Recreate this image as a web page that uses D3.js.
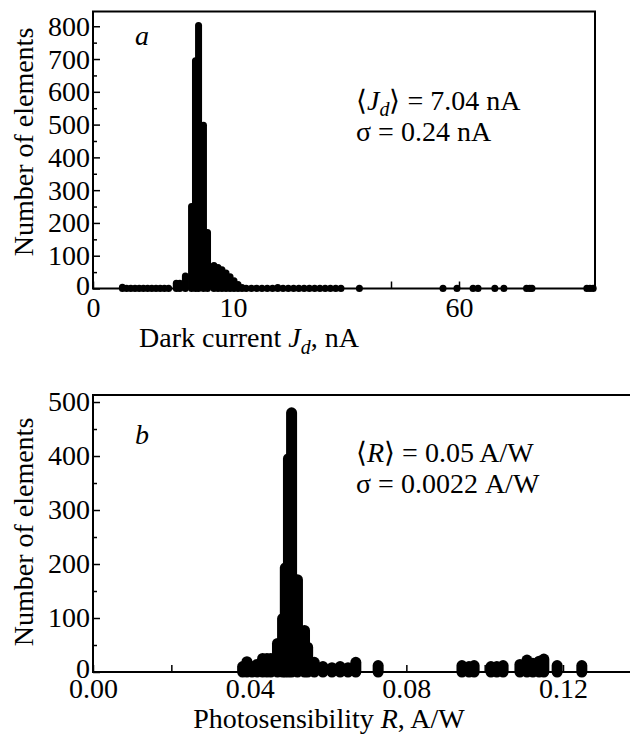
<!DOCTYPE html>
<html>
<head>
<meta charset="utf-8">
<script src="https://cdn.jsdelivr.net/npm/d3@7"></script>
<style>
  body { margin: 0; background: #fff; }
  svg text { font-family: "Liberation Serif", "Times New Roman", serif; fill: #000; }
</style>
</head>
<body>
<svg id="chart" width="630" height="734"></svg>
<script>
// panel a: dark current histogram (value, count)
const darkJ = [2.1, 2.4, 2.7, 3.0, 3.3, 3.6, 3.9, 4.2, 4.5, 4.8, 5.1, 5.4,
  5.95, 6.2, 6.6, 7.04, 7.32, 7.54, 7.89, 8.18,
  8.64, 8.93, 9.21, 9.5, 9.79, 10.19, 10.95, 11.71,
  12.5, 13.5, 14.5, 15.5, 16.5, 17.5, 18.5, 19.5, 20.5, 21.5, 22.5, 23.5, 24.5, 25.5, 26.5, 27.5, 28.5, 29.5, 30.5,
  34, 55.3, 59.4, 63.1, 64.2, 67.9, 69.9, 74.9, 75.6, 76.1, 88.2, 88.9, 89.6];
const darkN = [4, 1, 1, 1, 1, 1, 1, 1, 1, 1, 1, 1,
  16, 16, 38, 250, 695, 802, 498, 171,
  70, 64, 57, 47, 36, 24, 12, 3,
  1, 1, 1, 1, 1, 1, 3, 1, 1, 1, 1, 1, 1, 1, 1, 1, 1, 1, 1,
  1, 1, 1, 1, 1, 1, 1, 1, 1, 1, 1, 1, 1];

// panel b: photosensibility histogram (value, count)
const photoR = [0.0382, 0.0393, 0.0406, 0.0419, 0.0433, 0.0444, 0.0454, 0.0471, 0.0484, 0.0491,
  0.0499, 0.0507, 0.0522, 0.0540, 0.0548, 0.0565,
  0.0587, 0.0610, 0.0631, 0.0651, 0.0671, 0.0728,
  0.0942, 0.0960, 0.0973, 0.1016, 0.1031, 0.1047,
  0.1090, 0.1108, 0.1123, 0.1139, 0.1151, 0.1185, 0.1248];
const photoN = [10, 19, 10, 14, 25, 25, 25, 53, 99, 193,
  395, 480, 171, 77, 46, 18,
  10, 8, 10, 8, 18, 12,
  12, 10, 12, 10, 10, 12,
  14, 22, 16, 20, 24, 12, 12];

const darkTicks = [0, 10, 40, 60];
const darkTickLabels = ["0", "10", "", "60"];
const photoTicks = [0, 0.02, 0.04, 0.06, 0.08, 0.10, 0.12];
const photoTickLabels = ["0.00", "", "0.04", "", "0.08", "", "0.12"];
const countMajorA = [0, 100, 200, 300, 400, 500, 600, 700, 800];
const countMinorA = [50, 150, 250, 350, 450, 550, 650, 750];
const countMajorB = [0, 100, 200, 300, 400, 500];
const countMinorB = [50, 150, 250, 350, 450];

const svg = d3.select("#chart");
const fs = 28;

function drawPanel(p) {
    const g = svg.append("g");

    // drop lines with round caps, giving the dotted baseline and the lumpy peak
    g.selectAll("line.bar")
        .data(d3.zip(p.xs, p.ns))
        .join("line")
        .attr("class", "bar")
        .attr("x1", d => p.x(d[0]))
        .attr("x2", d => p.x(d[0]))
        .attr("y1", p.y(0))
        .attr("y2", d => p.y(d[1]))
        .attr("stroke", "#000")
        .attr("stroke-width", p.barW)
        .attr("stroke-linecap", "round");

    // frame
    g.append("path")
        .attr("d", p.frame)
        .attr("fill", "none")
        .attr("stroke", "#000")
        .attr("stroke-width", 2);

    const yMajor = g.append("g")
        .attr("transform", `translate(${p.x0},0)`)
        .call(d3.axisLeft(p.y).tickValues(p.yMajor).tickSize(-7).tickPadding(3).tickFormat(d3.format("d")));
    const yMinor = g.append("g")
        .attr("transform", `translate(${p.x0},0)`)
        .call(d3.axisLeft(p.y).tickValues(p.yMinor).tickSize(-4).tickFormat(""));
    const xAx = g.append("g")
        .attr("transform", `translate(0,${p.y(0)})`)
        .call(d3.axisBottom(p.x).tickValues(p.xTicks).tickSize(-7).tickPadding(p.xPad)
            .tickFormat((d, i) => p.xLabels[i]));

    [yMajor, yMinor, xAx].forEach(a => {
        a.select(".domain").remove();
        a.selectAll("line").attr("stroke", "#000").attr("stroke-width", 1.5);
        a.selectAll("text").attr("font-size", fs).attr("font-family", null).attr("fill", "#000");
    });
    // lowest count label sits a little higher so it clears the x labels
    yMajor.selectAll("text").filter(d => d === 0).attr("dy", "0.2em");

    // y label
    g.append("text")
        .attr("transform", `translate(33,${p.yLabelY}) rotate(-90)`)
        .attr("text-anchor", "middle")
        .attr("font-size", fs)
        .text("Number of elements");

    // x label
    const xl = g.append("text")
        .attr("x", p.xLabelX).attr("y", p.xLabelY)
        .attr("text-anchor", "middle")
        .attr("font-size", fs);
    xl.append("tspan").text(p.xLabel[0]);
    xl.append("tspan").attr("font-style", "italic").text(p.xLabel[1]);
    if (p.xLabel[2]) {
        xl.append("tspan").attr("font-style", "italic").attr("font-size", 20).attr("dy", 7).text(p.xLabel[2]);
        xl.append("tspan").attr("dy", -7).text(p.xLabel[3]);
    } else {
        xl.append("tspan").text(p.xLabel[3]);
    }

    // panel letter
    g.append("text")
        .attr("x", 135).attr("y", p.letterY)
        .attr("font-size", fs).attr("font-style", "italic")
        .text(p.letter);

    // statistics
    const t1 = g.append("text").attr("x", 356).attr("y", p.statY).attr("font-size", fs);
    t1.append("tspan").text("\u27E8");
    t1.append("tspan").attr("font-style", "italic").text(p.sym);
    if (p.symSub) {
        t1.append("tspan").attr("font-style", "italic").attr("font-size", 20).attr("dy", 6).text(p.symSub);
        t1.append("tspan").attr("dy", -6).text("\u27E9 = " + p.mean);
    } else {
        t1.append("tspan").text("\u27E9 = " + p.mean);
    }
    g.append("text").attr("x", 356).attr("y", p.statY + 31).attr("font-size", fs)
        .text("\u03C3 = " + p.sigma);
}

drawPanel({
    xs: darkJ, ns: darkN,
    x: d3.scaleLinear().domain([0, 10, 40, 60, 90]).range([93, 233, 391, 459, 595]),
    y: d3.scaleLinear().domain([0, 845]).range([288.5, 11.5]),
    x0: 93, barW: 7,
    frame: "M93,11.5H595V288.5H93Z",
    yMajor: countMajorA, yMinor: countMinorA,
    xTicks: darkTicks, xLabels: darkTickLabels, xPad: 8.5,
    yLabelY: 142, xLabelX: 249, xLabelY: 347,
    xLabel: ["Dark current ", "J", "d", ", nA"],
    letter: "a", letterY: 45,
    sym: "J", symSub: "d", mean: "7.04 nA", sigma: "0.24 nA", statY: 110
});

drawPanel({
    xs: photoR, ns: photoN,
    x: d3.scaleLinear().domain([0, 0.1371]).range([93, 630]),
    y: d3.scaleLinear().domain([0, 513]).range([672, 395]),
    x0: 93, barW: 11,
    frame: "M630,395H93V672H630",
    yMajor: countMajorB, yMinor: countMinorB,
    xTicks: photoTicks, xLabels: photoTickLabels, xPad: 6,
    yLabelY: 532, xLabelX: 329, xLabelY: 728,
    xLabel: ["Photosensibility ", "R", "", ", A/W"],
    letter: "b", letterY: 444,
    sym: "R", symSub: "", mean: "0.05 A/W", sigma: "0.0022 A/W", statY: 462
});
</script>
</body>
</html>
